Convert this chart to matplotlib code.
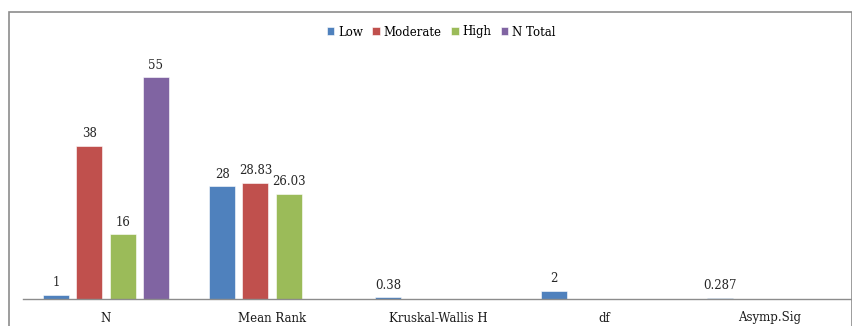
import numpy as np
import matplotlib
matplotlib.use("Agg")
import matplotlib.pyplot as plt
from matplotlib.patches import Rectangle

categories = ["N", "Mean Rank", "Kruskal-Wallis H", "df", "Asymp.Sig"]
series_names = ["Low", "Moderate", "High", "N Total"]
low = [1, 28, 0.38, 2, 0.287]
moderate = [38, 28.83, np.nan, np.nan, np.nan]
high = [16, 26.03, np.nan, np.nan, np.nan]
n_total = [55, np.nan, np.nan, np.nan, np.nan]
colors = ["#4F81BD", "#C0504D", "#9BBB59", "#8064A2"]

plt.rcParams['font.family'] = ['DejaVu Serif']

W, H = 853, 326
fig = plt.figure(figsize=(W / 100, H / 100), dpi=100)

# outer chart frame (bottom cut off)
fig.patches.append(Rectangle((9 / W, -0.1), (852 - 9) / W, (H - 12) / H + 0.1,
                             transform=fig.transFigure, fill=False,
                             edgecolor="#8c8c8c", linewidth=1.2))

ax_left = 23 / W
ax_bottom = (H - 299) / H
ax_top = (H - 57) / H
ax = fig.add_axes([ax_left, ax_bottom, 1 - ax_left, ax_top - ax_bottom])

x = np.arange(len(categories))
step = 0.2
width = 0.157
all_series = [low, moderate, high, n_total]
for i, (name, vals, c) in enumerate(zip(series_names, all_series, colors)):
    pos = x + (i - 1.5) * step
    vals = np.array(vals, dtype=float)
    ax.bar(pos, vals, width=width, color=c, label=name,
           edgecolor="white", linewidth=0.4)
    for p, v in zip(pos, vals):
        if np.isnan(v):
            continue
        ax.annotate(f"{v:g}", (p, v), xytext=(0, 4), textcoords="offset points",
                    ha="center", va="bottom", fontsize=8.5, color="#262626")

ax.set_xlim(-0.5, len(categories) - 0.5)
ax.set_ylim(0, 60)
ax.set_xticks(x)
ax.set_xticklabels(categories, fontsize=8.5, color="#1a1a1a")
ax.tick_params(axis="x", length=0, pad=9)
ax.set_yticks([])
for s in ["top", "right", "left"]:
    ax.spines[s].set_visible(False)
ax.spines["bottom"].set_color("#8c8c8c")
ax.spines["bottom"].set_linewidth(1.0)
ax.set_facecolor("none")

fig.legend(loc="center", bbox_to_anchor=(441 / W, (H - 32) / H), ncol=4,
           frameon=False, fontsize=8.5, handlelength=0.65, handleheight=0.65,
           handletextpad=0.3, columnspacing=0.8)

fig.savefig("out.png", dpi=100)
